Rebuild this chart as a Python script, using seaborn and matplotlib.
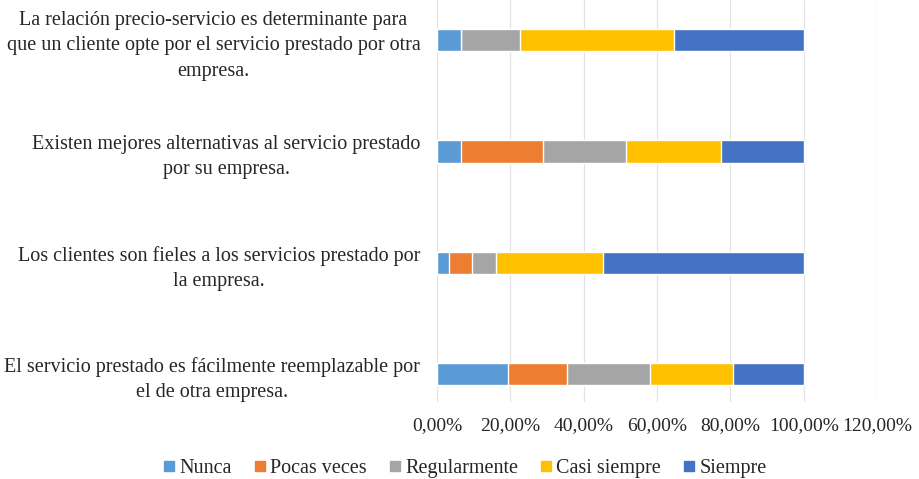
import numpy as np
import pandas as pd
import matplotlib
matplotlib.use("Agg")
import matplotlib.pyplot as plt
from matplotlib.lines import Line2D
import seaborn as sns

categories = [
    "La relación precio-servicio es determinante para\nque un cliente opte por el servicio prestado por otra\nempresa.",
    "Existen mejores alternativas al servicio prestado\npor su empresa.",
    "Los clientes son fieles a los servicios prestado por\nla empresa.",
    "El servicio prestado es fácilmente reemplazable por\nel de otra empresa.",
]
series = ["Nunca", "Pocas veces", "Regularmente", "Casi siempre", "Siempre"]
nunca = [6.45, 6.45, 3.23, 19.35]
pocas_veces = [0.0, 22.58, 6.45, 16.13]
regularmente = [16.13, 22.58, 6.45, 22.58]
casi_siempre = [41.94, 25.81, 29.03, 22.58]
siempre = [35.48, 22.58, 54.84, 19.35]
x_ticks = [0, 20, 40, 60, 80, 100, 120]
x_tick_labels = ["0,00%", "20,00%", "40,00%", "60,00%", "80,00%", "100,00%", "120,00%"]
colors = ["#5B9BD5", "#ED7D31", "#A5A5A5", "#FFC000", "#4472C4"]

sns.set_style("white")
plt.rcParams["font.family"] = ["Liberation Serif", "DejaVu Serif"]

values = [nunca, pocas_veces, regularmente, casi_siempre, siempre]
cum = np.cumsum(np.array(values), axis=0)

fig = plt.figure(figsize=(9.19, 4.79), dpi=100)
W, H = 919, 479
ax = fig.add_axes([437 / W, (H - 402) / H, 440 / W, 402 / H])

for i in reversed(range(len(series))):
    df = pd.DataFrame({"cat": categories, "val": cum[i]})
    sns.barplot(data=df, y="cat", x="val", order=categories, orient="h",
                color=colors[i], width=0.2, saturation=1, ax=ax, zorder=3)

ax.set_xlim(0, 120)
ax.set_ylim(3.25, -0.36)
ax.set_xticks(x_ticks)
ax.set_xticklabels(x_tick_labels, fontsize=14)
ax.set_xlabel("")
ax.set_ylabel("")
ax.xaxis.grid(True, color="#E3E3E3", linewidth=0.9, zorder=0)
ax.yaxis.grid(False)
for s in ax.spines.values():
    s.set_visible(False)
ax.tick_params(axis="x", length=0, pad=11)
ax.tick_params(axis="y", length=0, pad=12)
for lab in ax.get_yticklabels():
    lab.set_fontsize(14.5)
    lab.set_multialignment("center")
    lab.set_linespacing(1.45)

handles = [Line2D([0], [0], marker="s", linestyle="none", markersize=7,
                  markerfacecolor=c, markeredgecolor=c) for c in colors]
fig.legend(handles, series, loc="center", bbox_to_anchor=(464 / W, 1 - 468 / H),
           ncol=5, frameon=False, fontsize=14.5, handletextpad=0.1,
           columnspacing=1.0, handlelength=0.8)

fig.savefig("out.png", dpi=100)
